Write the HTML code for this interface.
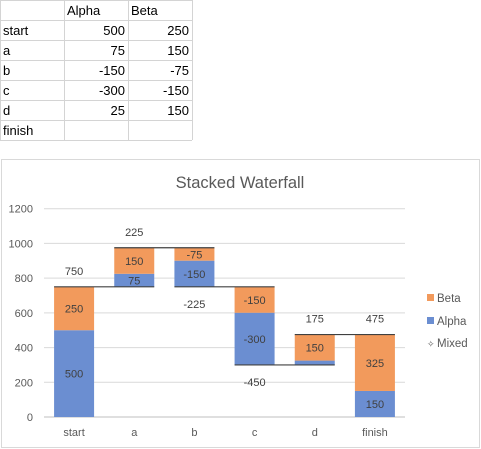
<!DOCTYPE html>
<html><head><meta charset="utf-8"><style>
html,body{margin:0;padding:0;background:#fff;width:481px;height:449px;overflow:hidden;font-family:"Liberation Sans",sans-serif}
svg{position:absolute;left:0;top:0}
</style></head><body>
<svg id="s" width="481" height="449" font-family="Liberation Sans, sans-serif">
  <g id="table"></g>
  <rect x="1.5" y="159.5" width="478" height="288" fill="#fff" stroke="#d9d9d9"/>
  <text x="240" y="188" text-anchor="middle" font-size="16.5" fill="#595959">Stacked Waterfall</text>
  <g id="grid"></g>
  <g id="bars"></g>
  <g id="labels"></g>
  <g font-size="11.5" fill="#595959">
    <rect x="427" y="294" width="7" height="7" fill="#F29A5C"/>
    <text x="437" y="302">Beta</text>
    <rect x="427" y="317" width="7" height="7" fill="#6B8ED1"/>
    <text x="437" y="325">Alpha</text>
    <text x="427" y="347" font-size="9">✧</text>
    <text x="437" y="347">Mixed</text>
  </g>
</svg>
<script>
const categories=["start","a","b","c","d","finish"];
const alphaVals=[500,75,-150,-300,25,150];
const betaVals=[250,150,-75,-150,150,325];
const yTicks=[0,200,400,600,800,1000,1200];
const NS="http://www.w3.org/2000/svg";
function mk(t,a,p){const e=document.createElementNS(NS,t);for(const k in a)e.setAttribute(k,a[k]);p.appendChild(e);return e;}
const y0=417,yTop=208.7,x0=44,x1=405;
const Y=v=>y0-(v/1200)*(y0-yTop);
const bw=(x1-x0)/categories.length;
const X=i=>x0+bw*(i+0.5);
const barW=40;
// table
const tb=document.getElementById('table');
const rows=[["","Alpha","Beta"]].concat(categories.map((c,i)=>i<5?[c,alphaVals[i],betaVals[i]]:[c,"",""]));
const colX=[0,64,128,192];
for(let r=0;r<=rows.length;r++){const l=mk('line',{x1:0,x2:192,y1:r*20+0.5,y2:r*20+0.5,stroke:'#d4d4d4'},tb);}
colX.forEach(x=>{const l=mk('line',{x1:x+0.5,x2:x+0.5,y1:0,y2:140,stroke:'#d4d4d4'},tb);});
rows.forEach((row,r)=>row.forEach((v,c)=>{
  const num=typeof v==='number';
  const t=mk('text',{x:num?colX[c+1]-3:colX[c]+3,y:r*20+15,'font-size':13,fill:'#000','text-anchor':num?'end':'start'},tb);
  t.textContent=v;
  
  
}));
// grid
const g=document.getElementById('grid');
yTicks.forEach(v=>{
  const l=mk('line',{x1:x0,x2:x1,y1:Y(v),y2:Y(v),stroke:v===0?'#bfbfbf':'#d9d9d9'},g);
  
  const t=mk('text',{x:33,y:Y(v)+4,'text-anchor':'end','font-size':11,fill:'#595959'},g);
  t.textContent=v;
});
categories.forEach((c,i)=>{const t=mk('text',{x:X(i),y:436,'text-anchor':'middle','font-size':11,fill:'#595959'},g);t.textContent=c;});
// bars
const B=document.getElementById('bars'),L=document.getElementById('labels');
let total=0;const totals=[];
function seg(i,a,b,col,val,name){
  const top=Math.max(a,b),bot=Math.min(a,b);
  const r=mk('rect',{x:X(i)-barW/2,y:Y(top),width:barW,height:Y(bot)-Y(top),fill:col},B);
  
  if(Y(bot)-Y(top)>8){const t=mk('text',{x:X(i),y:(Y(top)+Y(bot))/2+4,'text-anchor':'middle','font-size':11,fill:'#404040'},L);t.textContent=val;}
}
categories.forEach((c,i)=>{
  const aV=alphaVals[i],bV=betaVals[i];
  const isTotal=(i===0||i===categories.length-1);
  const base=isTotal?0:total;
  const d=aV+bV;
  const end=base+d;
  if(d>=0){
    seg(i,base,base+aV,'#6B8ED1',aV,'bar-alpha-'+c);
    seg(i,base+aV,end,'#F29A5C',bV,'bar-beta-'+c);
  }else{
    seg(i,base,base+bV,'#F29A5C',bV,'bar-beta-'+c);
    seg(i,base+bV,end,'#6B8ED1',aV,'bar-alpha-'+c);
  }
  let lbl,ly;
  if(isTotal){lbl=end;ly=Y(end)-12;}
  else{lbl=d;ly=d>=0?Y(end)-12:Y(end)+21;}
  const t=mk('text',{x:X(i),y:ly,'text-anchor':'middle','font-size':11,fill:'#404040'},L);
  t.textContent=lbl;
  totals.push(end);total=end;
});
// connectors
for(let i=0;i<categories.length-1;i++){
  const l=mk('line',{x1:X(i)-barW/2,x2:X(i+1)+barW/2,y1:Y(totals[i]),y2:Y(totals[i]),stroke:'#404040','stroke-width':1.2},L);
  
}
</script>
</body></html>
